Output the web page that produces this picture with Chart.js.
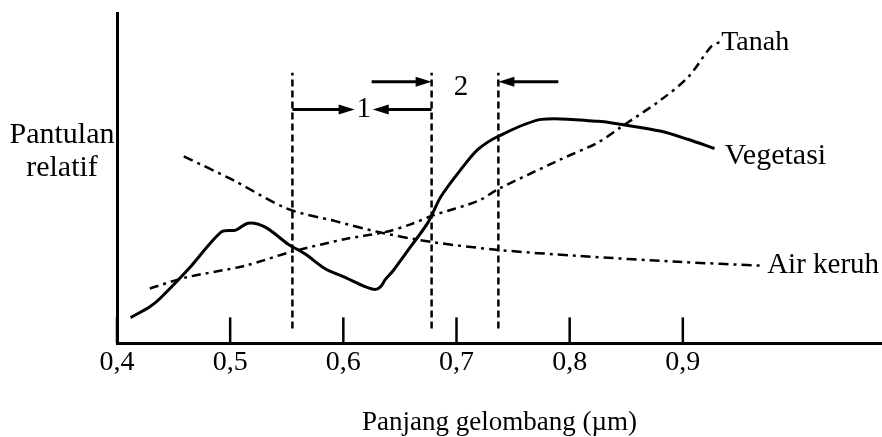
<!DOCTYPE html>
<html lang="id">
<head>
  <meta charset="UTF-8">
  <title>Pantulan relatif - Panjang gelombang</title>
  <script src="https://cdn.jsdelivr.net/npm/chart.js"></script>
  <style>
    body {
      margin: 0;
      padding: 0;
      background: #fff;
    }
    canvas {
      display: block;
    }
  </style>
</head>
<body>
  <canvas id="chart" width="882" height="437"></canvas>

  <script>
    // wavelength ticks (µm)
    const wavelengthTicks = [0.4, 0.5, 0.6, 0.7, 0.8, 0.9];

    // Vegetasi (solid line)
    const vegetasiX = [0.412, 0.429, 0.438, 0.465, 0.492, 0.505, 0.516, 0.531, 0.551, 0.566, 0.584, 0.602, 0.619, 0.628, 0.633, 0.637, 0.644, 0.660, 0.675, 0.686, 0.704, 0.719, 0.737, 0.775, 0.825, 0.845, 0.881, 0.905, 0.928];
    const vegetasiY = [7.8, 11.1, 13.6, 23.2, 33.7, 34.3, 36.4, 35.2, 30.1, 27.1, 22.6, 19.9, 17.2, 16.3, 17.2, 19.3, 22.0, 29.5, 36.7, 44.3, 52.7, 58.7, 62.7, 67.8, 67.2, 66.3, 64.2, 61.7, 59.0];

    // Tanah (dash-dot)
    const tanahX = [0.429, 0.460, 0.513, 0.554, 0.602, 0.637, 0.660, 0.678, 0.719, 0.737, 0.792, 0.825, 0.845, 0.881, 0.905, 0.925, 0.933];
    const tanahY = [16.6, 19.9, 23.5, 27.7, 31.6, 33.7, 36.1, 38.6, 43.1, 46.7, 55.7, 60.8, 65.4, 73.8, 80.7, 89.8, 91.3];

    // Air keruh (dash-dot)
    const airX = [0.459, 0.501, 0.551, 0.593, 0.631, 0.678, 0.737, 0.807, 0.896, 0.971];
    const airY = [56.6, 49.7, 40.7, 37.0, 33.7, 30.7, 28.3, 26.5, 24.7, 23.5];

    // band boundaries (dashed verticals) and their extent
    const bandEdges = [0.555, 0.678, 0.737];
    const bandLineY = [4.5, 81.9];

    // arrows: [fromX, toX, y]
    const band1Arrows = [[0.555, 0.610, 70.8], [0.678, 0.626, 70.8]];
    const band2Arrows = [[0.625, 0.678, 79.2], [0.790, 0.737, 79.2]];
    const bandLabels = ["1", "2"];
    const bandLabelX = [0.618, 0.704];
    const bandLabelY = [70.8, 77.4];

    const toPoints = (xs, ys) => xs.map((x, i) => ({ x: x, y: ys[i] }));

    const FONT = "'Liberation Serif', 'Times New Roman', serif";

    const datasets = [
      {
        label: "Vegetasi",
        data: toPoints(vegetasiX, vegetasiY),
        borderColor: "#000",
        borderWidth: 3,
        pointRadius: 0,
        tension: 0.3,
        endLabel: { text: "Vegetasi", dx: 10, dy: 8, size: 30 }
      },
      {
        label: "Tanah",
        data: toPoints(tanahX, tanahY),
        borderColor: "#000",
        borderWidth: 2.5,
        borderDash: [9, 5, 3, 5],
        pointRadius: 0,
        tension: 0.3,
        endLabel: { text: "Tanah", dx: 1, dy: 1, size: 28 }
      },
      {
        label: "Air keruh",
        data: toPoints(airX, airY),
        borderColor: "#000",
        borderWidth: 2.5,
        borderDash: [10, 5, 3, 5],
        pointRadius: 0,
        tension: 0.3,
        endLabel: { text: "Air keruh", dx: 4, dy: 0, size: 29 }
      }
    ];

    bandEdges.forEach(edge => {
      datasets.push({
        label: "batas",
        data: [{ x: edge, y: bandLineY[0] }, { x: edge, y: bandLineY[1] }],
        borderColor: "#000",
        borderWidth: 2.5,
        borderDash: [7, 4],
        pointRadius: 0
      });
    });

    // extra drawing: tick marks inside, arrows, labels
    const extras = {
      id: "extras",
      afterDatasetsDraw(chart) {
        const ctx = chart.ctx;
        const xs = chart.scales.x;
        const ys = chart.scales.y;
        const area = chart.chartArea;
        ctx.save();
        ctx.strokeStyle = "#000";
        ctx.fillStyle = "#000";

        // tick marks pointing up
        ctx.lineWidth = 2.5;
        wavelengthTicks.forEach(t => {
          const px = xs.getPixelForValue(t);
          ctx.beginPath();
          ctx.moveTo(px, area.bottom);
          ctx.lineTo(px, area.bottom - 26);
          ctx.stroke();
        });

        // arrows
        const arrow = (a) => {
          const x0 = xs.getPixelForValue(a[0]);
          const x1 = xs.getPixelForValue(a[1]);
          const y = ys.getPixelForValue(a[2]);
          const dir = Math.sign(x1 - x0);
          ctx.lineWidth = 3;
          ctx.beginPath();
          ctx.moveTo(x0, y);
          ctx.lineTo(x1 - dir * 10, y);
          ctx.stroke();
          ctx.beginPath();
          ctx.moveTo(x1, y);
          ctx.lineTo(x1 - dir * 16, y - 5);
          ctx.lineTo(x1 - dir * 16, y + 5);
          ctx.closePath();
          ctx.fill();
        };
        band1Arrows.forEach(arrow);
        band2Arrows.forEach(arrow);

        ctx.font = "29px " + FONT;
        ctx.textBaseline = "middle";
        ctx.textAlign = "center";
        bandLabels.forEach((t, i) => {
          ctx.fillText(t, xs.getPixelForValue(bandLabelX[i]), ys.getPixelForValue(bandLabelY[i]));
        });

        // series labels at line ends
        ctx.textAlign = "left";
        chart.data.datasets.forEach(ds => {
          if (!ds.endLabel) return;
          const last = ds.data[ds.data.length - 1];
          ctx.font = ds.endLabel.size + "px " + FONT;
          ctx.fillText(ds.endLabel.text,
            xs.getPixelForValue(last.x) + ds.endLabel.dx,
            ys.getPixelForValue(last.y) + ds.endLabel.dy);
        });

        // y axis title (horizontal)
        ctx.font = "30px " + FONT;
        ctx.textAlign = "center";
        ctx.fillText("Pantulan", area.left - 55, area.top + 122);
        ctx.fillText("relatif", area.left - 55, area.top + 155);
        ctx.restore();
      }
    };

    new Chart(document.getElementById("chart"), {
      type: "line",
      data: { datasets: datasets },
      options: {
        responsive: false,
        animation: false,
        layout: { padding: { left: 117, top: 13, right: 0, bottom: 0 } },
        plugins: {
          legend: { display: false },
          tooltip: { enabled: false }
        },
        scales: {
          x: {
            type: "linear",
            min: 0.4,
            max: 1.076,
            afterBuildTicks: scale => {
              scale.ticks = wavelengthTicks.map(v => ({ value: v }));
            },
            grid: { display: false, drawTicks: false },
            border: { display: true, color: "#000", width: 3 },
            ticks: {
              color: "#000",
              padding: 2,
              maxRotation: 0,
              font: { family: FONT, size: 28 },
              callback: v => v.toFixed(1).replace(".", ",")
            },
            title: {
              display: true,
              text: "Panjang gelombang (\u00b5m)",
              color: "#000",
              font: { family: FONT, size: 27, lineHeight: 1 },
              padding: { top: 28, bottom: 1 }
            }
          },
          y: {
            min: 0,
            max: 100,
            grid: { display: false, drawTicks: false },
            border: { display: true, color: "#000", width: 3 },
            ticks: { display: false }
          }
        }
      },
      plugins: [extras]
    });
  </script>
</body>
</html>
